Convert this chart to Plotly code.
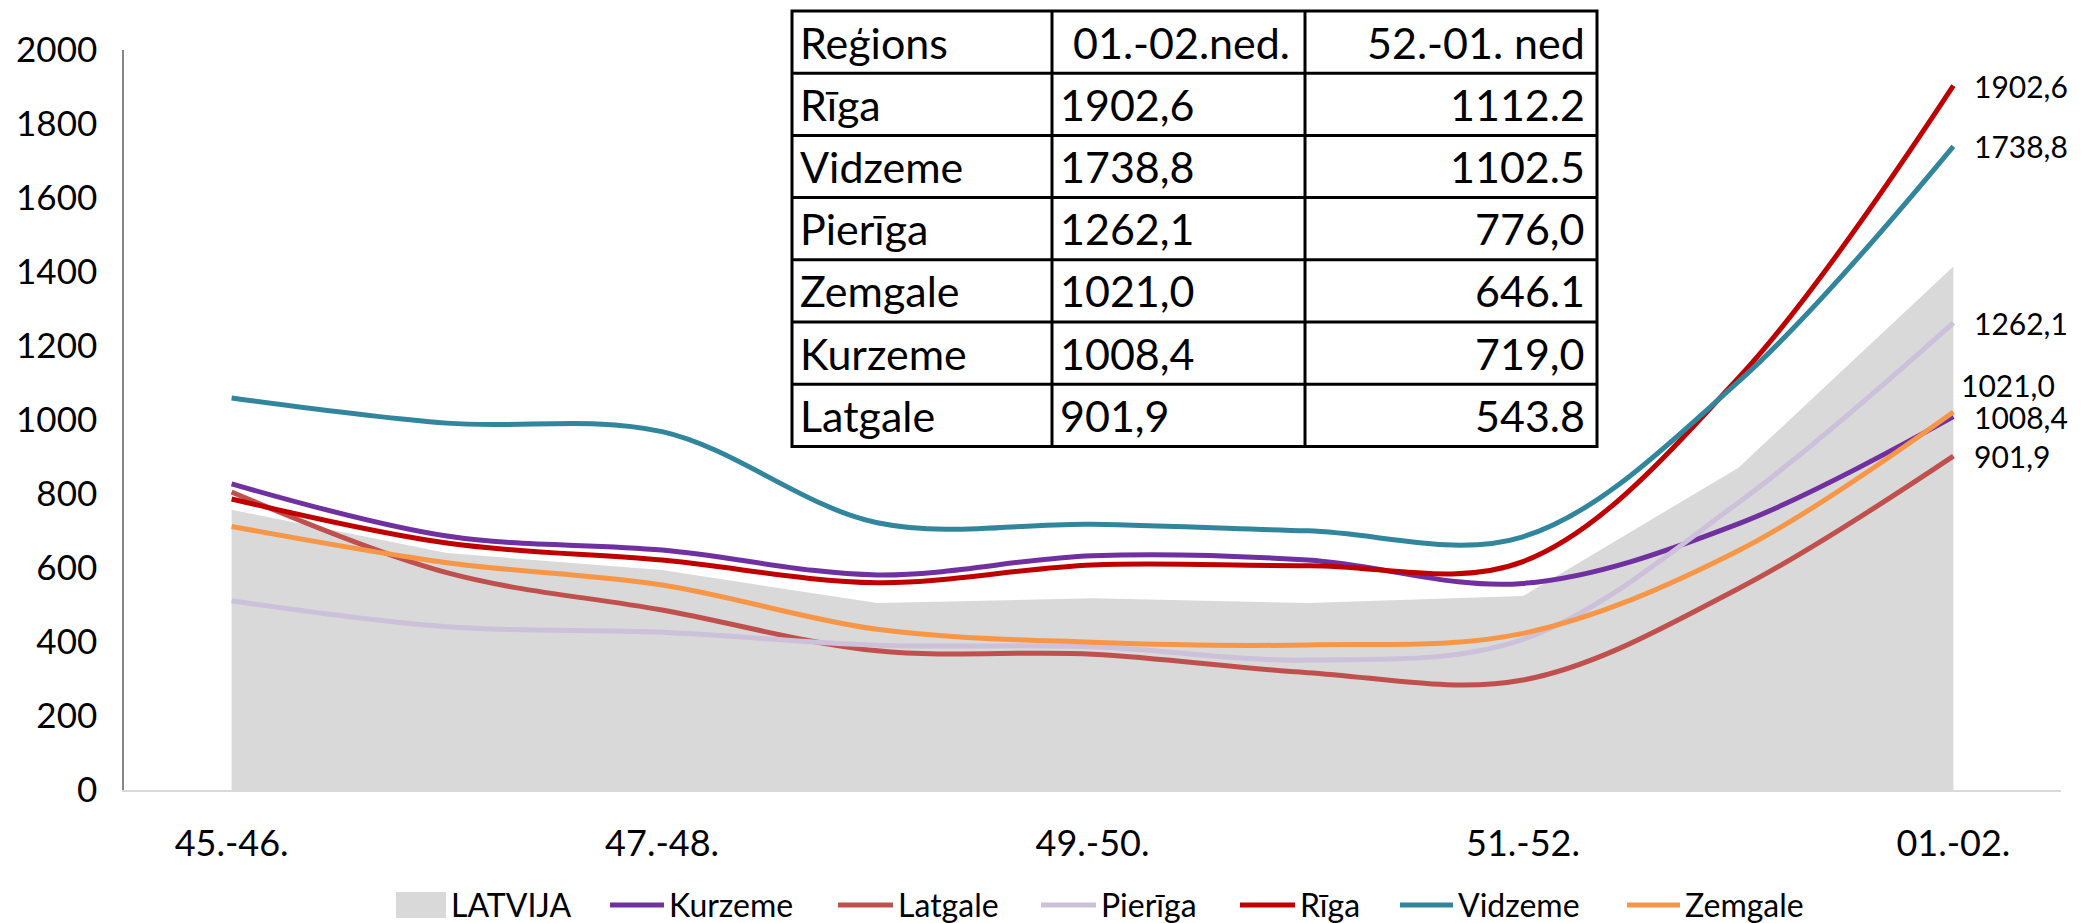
import plotly.graph_objects as go

categories = ["45.-46.", "46.-47.", "47.-48.", "48.-49.", "49.-50.",
              "50.-51.", "51.-52.", "52.-01.", "01.-02."]
tick_labels = ["45.-46.", "47.-48.", "49.-50.", "51.-52.", "01.-02."]

latvija = [757, 640, 594, 505, 518, 505, 524, 870, 1414]
kurzeme = [827, 686, 648, 581, 633, 621, 558, 719.0, 1008.4]
latgale = [805, 587, 486, 376, 367, 317, 297, 543.8, 901.9]
pieriga = [511, 441, 426, 391, 387, 351, 407, 776.0, 1262.1]
riga = [786, 667, 621, 560, 608, 606, 617, 1112.2, 1902.6]
vidzeme = [1059, 991, 968, 722, 718, 700, 684, 1102.5, 1738.8]
zemgale = [712, 614, 554, 434, 399, 392, 423, 646.1, 1021.0]

y_ticks = [0, 200, 400, 600, 800, 1000, 1200, 1400, 1600, 1800, 2000]

table_header = ["Reģions", " 01.-02.ned.", "52.-01. ned"]
table_regions = ["Rīga", "Vidzeme", "Pierīga", "Zemgale", "Kurzeme", "Latgale"]
table_col2 = ["1902,6", "1738,8", "1262,1", "1021,0", "1008,4", "901,9"]
table_col3 = ["1112.2", "1102.5", "776,0", "646.1", "719,0", "543.8"]

FONT = "Lato"
OFF = 8                      # default page body margin
W, H = 2072, 915
ML, MR, MT, MB = 116, 19, 2, 133
PW, PH = W - ML - MR, H - MT - MB

area_name, area_color = "LATVIJA", "#D9D9D9"
series = [
    ("Kurzeme", kurzeme, "#7030A0"),
    ("Latgale", latgale, "#C0504D"),
    ("Pierīga", pieriga, "#CCC0DA"),
    ("Rīga", riga, "#C00000"),
    ("Vidzeme", vidzeme, "#31859C"),
    ("Zemgale", zemgale, "#F79646"),
]

fig = go.Figure()
fig.add_trace(go.Scatter(
    x=categories, y=latvija, name=area_name, mode="lines",
    fill="tozeroy", fillcolor=area_color, line=dict(width=0, color=area_color),
))
for name, vals, col in series:
    fig.add_trace(go.Scatter(
        x=categories, y=vals, name=name, mode="lines",
        line=dict(color=col, width=5, shape="spline", smoothing=1.0),
    ))

# end-of-line data labels
label_shift = {"Zemgale": (6, 27)}
for name, vals, col in series:
    v = vals[-1]
    xs, ys = label_shift.get(name, (19, 0))
    fig.add_annotation(
        x=categories[-1], y=v, text=f"{v:.1f}".replace(".", ","),
        showarrow=False, xanchor="left", yanchor="middle",
        xshift=xs, yshift=ys, font=dict(family=FONT, size=30, color="#000000"),
    )

# ---- helpers: screenshot pixel -> paper coords ----
def px_x(p):
    return (p - OFF - ML) / PW

def px_y(p):
    return (H - MB - (p - OFF)) / PH

# ---- table overlay (drawn with shapes + text) ----
col_edges = [792, 1052, 1305, 1597]
row_top, row_h = 11, 62.2
n_rows = 1 + len(table_regions)
row_edges = [row_top + i * row_h for i in range(n_rows + 1)]
border = dict(color="black", width=3)

fig.add_shape(type="rect", xref="paper", yref="paper",
              x0=px_x(col_edges[0]), x1=px_x(col_edges[-1]),
              y0=px_y(row_edges[-1]), y1=px_y(row_edges[0]),
              fillcolor="white", line=border, layer="above")
for ce in col_edges[1:-1]:
    fig.add_shape(type="line", xref="paper", yref="paper",
                  x0=px_x(ce), x1=px_x(ce),
                  y0=px_y(row_edges[-1]), y1=px_y(row_edges[0]),
                  line=border, layer="above")
for re_ in row_edges[1:-1]:
    fig.add_shape(type="line", xref="paper", yref="paper",
                  x0=px_x(col_edges[0]), x1=px_x(col_edges[-1]),
                  y0=px_y(re_), y1=px_y(re_),
                  line=border, layer="above")

rows = [table_header] + [list(r) for r in zip(table_regions, table_col2, table_col3)]
for ri, row in enumerate(rows):
    yc = px_y(row_edges[ri] + row_h / 2)
    for ci, txt in enumerate(row):
        if ci == 2:
            x, anchor = px_x(col_edges[3] - 10), "right"
        elif ci == 1 and ri == 0:
            x, anchor = px_x(col_edges[1] + 8), "left"
        else:
            x, anchor = px_x(col_edges[ci] + 6), "left"
        fig.add_annotation(
            x=x, y=yc, xref="paper", yref="paper", text=txt,
            showarrow=False, xanchor=anchor, yanchor="middle",
            font=dict(family=FONT, size=43, color="black"),
        )

# ---- legend (drawn to match the reference layout) ----
legend_items = [(area_name, area_color, "box")] + [(n, c, "line") for n, _, c in series]
legend_sym_x = [(396, 446), (610, 664), (838, 893), (1041, 1096),
                (1240, 1295), (1400, 1453), (1627, 1680)]
leg_y = 905
for (name, col, kind), (x0, x1) in zip(legend_items, legend_sym_x):
    if kind == "box":
        fig.add_shape(type="rect", xref="paper", yref="paper",
                      x0=px_x(x0), x1=px_x(x1), y0=px_y(leg_y + 13), y1=px_y(leg_y - 13),
                      fillcolor=col, line=dict(width=0))
    else:
        fig.add_shape(type="line", xref="paper", yref="paper",
                      x0=px_x(x0), x1=px_x(x1), y0=px_y(leg_y), y1=px_y(leg_y),
                      line=dict(color=col, width=5))
    fig.add_annotation(
        x=px_x(x1 + 3), y=px_y(leg_y), xref="paper", yref="paper", text=name,
        showarrow=False, xanchor="left", yanchor="middle",
        font=dict(family=FONT, size=32, color="#000000"),
    )

fig.update_layout(
    width=W, height=H, autosize=False,
    margin=dict(l=ML, r=MR, t=MT, b=MB, autoexpand=False),
    paper_bgcolor="white", plot_bgcolor="white",
    font=dict(family=FONT, size=35, color="#000000"),
    showlegend=False,
    xaxis=dict(
        type="category", range=[-0.5, 8.5], automargin=False,
        tickmode="array", tickvals=tick_labels, ticktext=tick_labels,
        showline=True, linecolor="#D9D9D9", linewidth=2,
        showgrid=False, zeroline=False, ticks="",
        tickfont=dict(family=FONT, size=36, color="#000000"),
        ticklabelstandoff=21,
    ),
    yaxis=dict(
        domain=[0, (H - MB - (49.6 - OFF)) / PH], range=[0, 2000], automargin=False,
        tickmode="array", tickvals=y_ticks,
        showline=True, linecolor="#868686", linewidth=1.5,
        showgrid=False, zeroline=False, ticks="",
        tickfont=dict(family=FONT, size=35, color="#000000"),
        ticklabelstandoff=18,
    ),
)

fig.write_html("out.html")
